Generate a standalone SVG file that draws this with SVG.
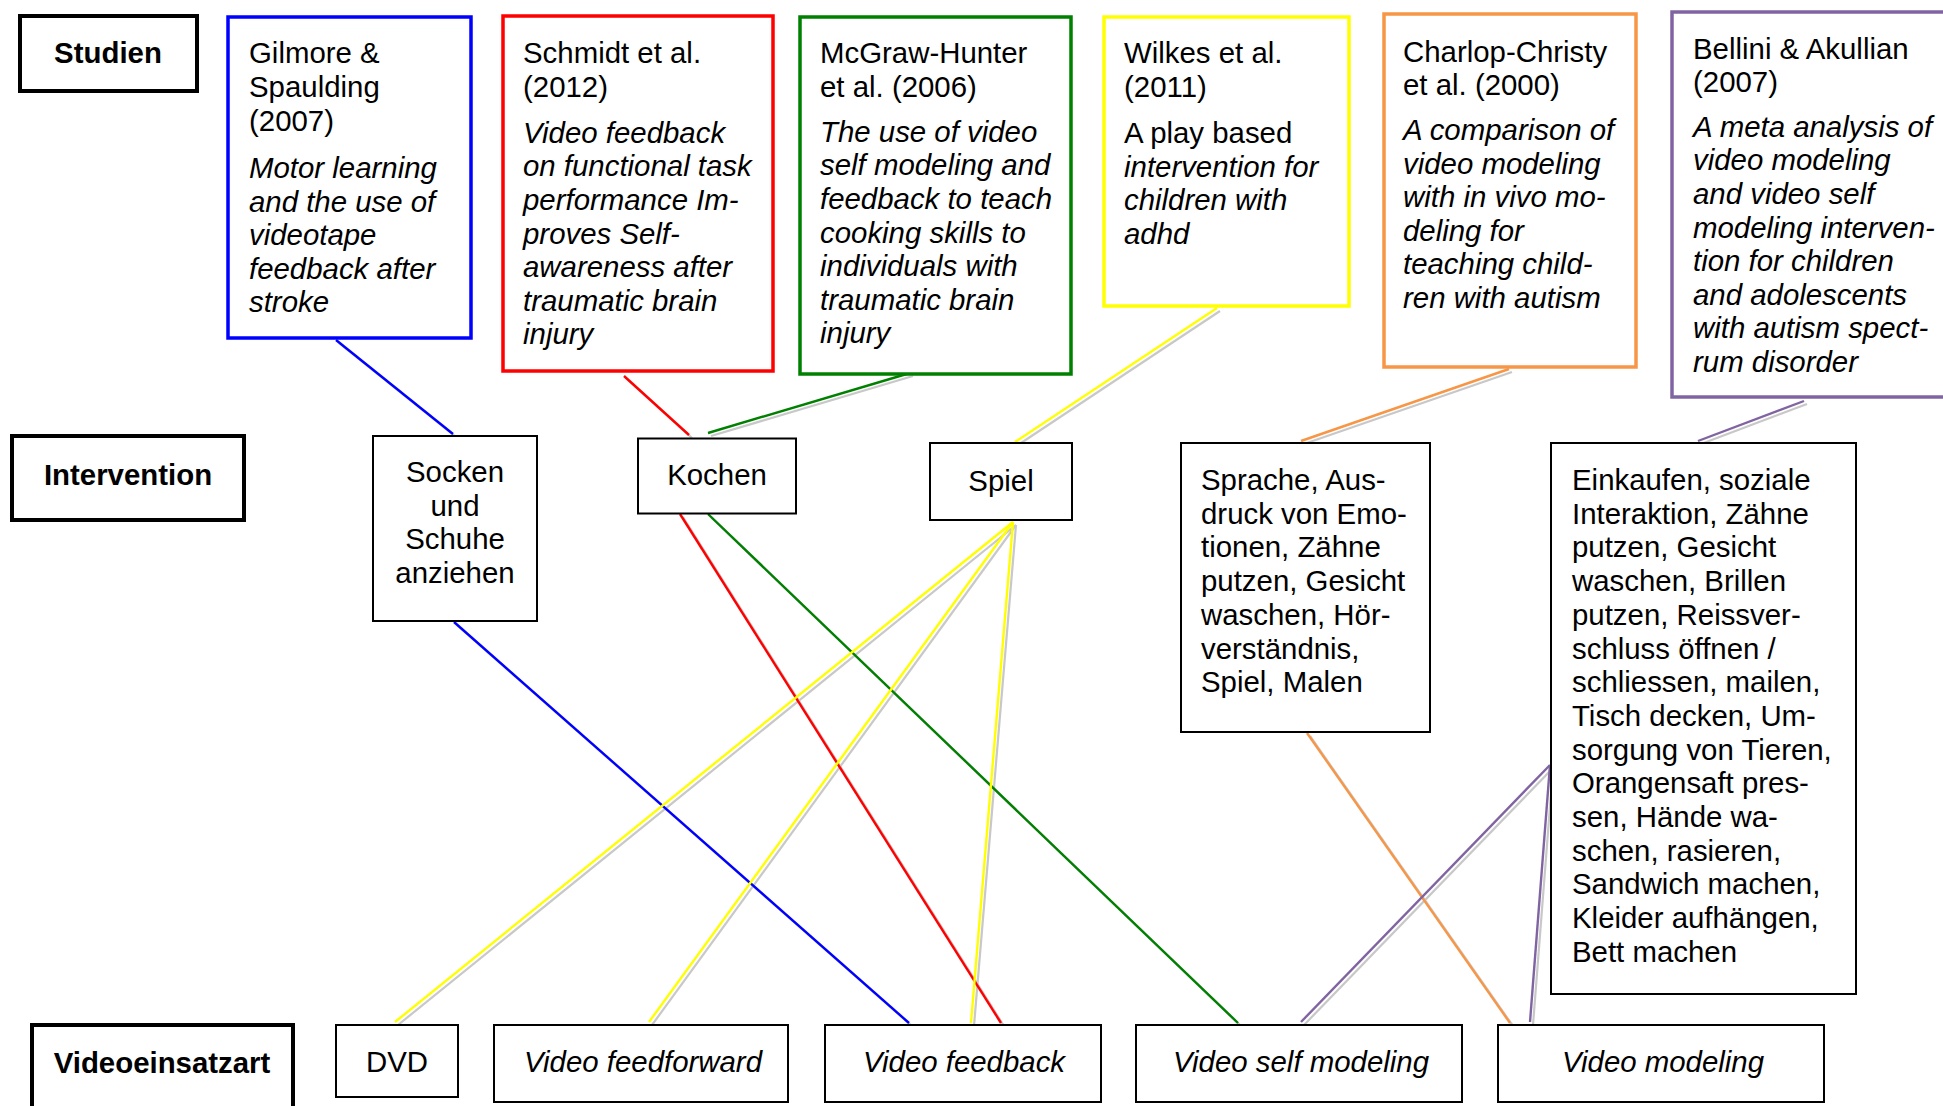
<svg xmlns="http://www.w3.org/2000/svg" width="1943" height="1106" viewBox="0 0 1943 1106">
<style>
text{font-family:"Liberation Sans",Arial,sans-serif;font-size:29.4px;fill:#000}
.b{font-weight:bold}
.i{font-style:italic}
.m{text-anchor:middle}
.lab{fill:#fff;stroke:#000;stroke-width:4}
.nd{fill:#fff;stroke:#000;stroke-width:2}
.st{fill:#fff;stroke-width:3.5}
.sh{stroke:#c8c8c8;stroke-width:2.2;fill:none}
.ln{stroke-width:2.4;fill:none}
</style>
<rect width="1943" height="1106" fill="#fff"/>
<g id="connectors">
  <g class="sh" transform="translate(3,3)">
    <line x1="336" y1="340" x2="453" y2="434"/>
    <line x1="454" y1="622" x2="909" y2="1023"/>
    <line x1="624" y1="376" x2="689" y2="435"/>
    <line x1="680" y1="514" x2="1001" y2="1023"/>
    <line x1="910" y1="373" x2="708" y2="433"/>
    <line x1="708" y1="514" x2="1238" y2="1023"/>
    <line x1="1217" y1="308" x2="1015" y2="442"/>
    <line x1="1013" y1="522" x2="395" y2="1022"/>
    <line x1="1013" y1="522" x2="649" y2="1022"/>
    <line x1="1013" y1="522" x2="971" y2="1023"/>
    <line x1="1509" y1="369" x2="1301" y2="441"/>
    <line x1="1307" y1="733" x2="1510" y2="1023"/>
    <line x1="1804" y1="401" x2="1698" y2="441"/>
    <line x1="1550" y1="765" x2="1301" y2="1022"/>
    <line x1="1550" y1="765" x2="1530" y2="1022"/>
  </g>
  <line class="ln" stroke="#0000ff" x1="336" y1="340" x2="453" y2="434"/>
  <line class="ln" stroke="#0000ff" x1="454" y1="622" x2="909" y2="1023"/>
  <line class="ln" stroke="#ff0000" x1="624" y1="376" x2="689" y2="435"/>
  <line class="ln" stroke="#ff0000" x1="680" y1="514" x2="1001" y2="1023"/>
  <line class="ln" stroke="#008000" x1="910" y1="373" x2="708" y2="433"/>
  <line class="ln" stroke="#008000" x1="708" y1="514" x2="1238" y2="1023"/>
  <line class="ln" stroke="#ffff00" x1="1217" y1="308" x2="1015" y2="442"/>
  <line class="ln" stroke="#ffff00" x1="1013" y1="522" x2="395" y2="1022"/>
  <line class="ln" stroke="#ffff00" x1="1013" y1="522" x2="649" y2="1022"/>
  <line class="ln" stroke="#ffff00" x1="1013" y1="522" x2="971" y2="1023"/>
  <line class="ln" stroke="#f79646" x1="1509" y1="369" x2="1301" y2="441"/>
  <line class="ln" stroke="#f79646" x1="1307" y1="733" x2="1510" y2="1023"/>
  <line class="ln" stroke="#8064a2" x1="1804" y1="401" x2="1698" y2="441"/>
  <line class="ln" stroke="#8064a2" x1="1550" y1="765" x2="1301" y2="1022"/>
  <line class="ln" stroke="#8064a2" x1="1550" y1="765" x2="1530" y2="1022"/>
</g>
<g id="label-studien">
  <rect class="lab" x="20" y="16" width="177" height="75"/>
  <text class="b m" x="108" y="63">Studien</text>
</g>
<g id="label-intervention">
  <rect class="lab" x="12" y="436" width="232" height="84"/>
  <text class="b m" x="128" y="485">Intervention</text>
</g>
<g id="label-videoeinsatzart">
  <rect class="lab" x="32" y="1025" width="261" height="100"/>
  <text class="b m" x="162" y="1073">Videoeinsatzart</text>
</g>
<g id="study-gilmore">
  <rect class="st" stroke="#0000ff" x="228" y="17" width="243" height="321"/>
  <text x="249"><tspan x="249" y="63">Gilmore &amp;</tspan><tspan x="249" y="97">Spaulding</tspan><tspan x="249" y="131">(2007)</tspan></text>
  <text class="i" x="249"><tspan x="249" y="178">Motor learning</tspan><tspan x="249" y="211.6">and the use of</tspan><tspan x="249" y="245.2">videotape</tspan><tspan x="249" y="278.8">feedback after</tspan><tspan x="249" y="312.4">stroke</tspan></text>
</g>
<g id="study-schmidt">
  <rect class="st" stroke="#ff0000" x="503" y="16" width="270" height="355"/>
  <text x="523"><tspan x="523" y="63">Schmidt et al.</tspan><tspan x="523" y="97">(2012)</tspan></text>
  <text class="i" x="523"><tspan x="523" y="142.7">Video feedback</tspan><tspan x="523" y="176.3">on functional task</tspan><tspan x="523" y="209.9">performance Im-</tspan><tspan x="523" y="243.5">proves Self-</tspan><tspan x="523" y="277.1">awareness after</tspan><tspan x="523" y="310.7">traumatic brain</tspan><tspan x="523" y="344.3">injury</tspan></text>
</g>
<g id="study-mcgraw">
  <rect class="st" stroke="#008000" x="800" y="17" width="271" height="357"/>
  <text x="820"><tspan x="820" y="63">McGraw-Hunter</tspan><tspan x="820" y="97">et al. (2006)</tspan></text>
  <text class="i" x="820"><tspan x="820" y="141.7">The use of video</tspan><tspan x="820" y="175.3">self modeling and</tspan><tspan x="820" y="208.9">feedback to teach</tspan><tspan x="820" y="242.5">cooking skills to</tspan><tspan x="820" y="276.1">individuals with</tspan><tspan x="820" y="309.7">traumatic brain</tspan><tspan x="820" y="343.3">injury</tspan></text>
</g>
<g id="study-wilkes">
  <rect class="st" stroke="#ffff00" x="1104" y="17" width="245" height="289"/>
  <text x="1124"><tspan x="1124" y="63">Wilkes et al.</tspan><tspan x="1124" y="97">(2011)</tspan><tspan x="1124" y="143">A play based</tspan></text>
  <text class="i" x="1124"><tspan x="1124" y="176.6">intervention for</tspan><tspan x="1124" y="210.2">children with</tspan><tspan x="1124" y="243.8">adhd</tspan></text>
</g>
<g id="study-charlop">
  <rect class="st" stroke="#f79646" x="1384" y="14" width="252" height="353"/>
  <text x="1403"><tspan x="1403" y="61.5">Charlop-Christy</tspan><tspan x="1403" y="95">et al. (2000)</tspan></text>
  <text class="i" x="1403"><tspan x="1403" y="140">A comparison of</tspan><tspan x="1403" y="173.6">video modeling</tspan><tspan x="1403" y="207.2">with in vivo mo-</tspan><tspan x="1403" y="240.8">deling for</tspan><tspan x="1403" y="274.4">teaching child-</tspan><tspan x="1403" y="308">ren with autism</tspan></text>
</g>
<g id="study-bellini">
  <rect class="st" stroke="#8064a2" x="1672" y="12" width="300" height="385"/>
  <text x="1693"><tspan x="1693" y="58.5">Bellini &amp; Akullian</tspan><tspan x="1693" y="92">(2007)</tspan></text>
  <text class="i" x="1693"><tspan x="1693" y="136.7">A meta analysis of</tspan><tspan x="1693" y="170.3">video modeling</tspan><tspan x="1693" y="203.9">and video self</tspan><tspan x="1693" y="237.5">modeling interven-</tspan><tspan x="1693" y="271.1">tion for children</tspan><tspan x="1693" y="304.7">and adolescents</tspan><tspan x="1693" y="338.3">with autism spect-</tspan><tspan x="1693" y="371.9">rum disorder</tspan></text>
</g>
<g id="int-socken">
  <rect class="nd" x="373" y="436" width="164" height="185"/>
  <text class="m"><tspan x="455" y="482">Socken</tspan><tspan x="455" y="515.7">und</tspan><tspan x="455" y="549.4">Schuhe</tspan><tspan x="455" y="583.1">anziehen</tspan></text>
</g>
<g id="int-kochen">
  <rect class="nd" x="638" y="438.5" width="158" height="75"/>
  <text class="m" x="717" y="485">Kochen</text>
</g>
<g id="int-spiel">
  <rect class="nd" x="930" y="443" width="142" height="77"/>
  <text class="m" x="1001" y="491">Spiel</text>
</g>
<g id="int-sprache">
  <rect class="nd" x="1181" y="443" width="249" height="289"/>
  <text><tspan x="1201" y="490">Sprache, Aus-</tspan><tspan x="1201" y="523.7">druck von Emo-</tspan><tspan x="1201" y="557.4">tionen, Zähne</tspan><tspan x="1201" y="591.1">putzen, Gesicht</tspan><tspan x="1201" y="624.8">waschen, Hör-</tspan><tspan x="1201" y="658.5">verständnis,</tspan><tspan x="1201" y="692.2">Spiel, Malen</tspan></text>
</g>
<g id="int-einkaufen">
  <rect class="nd" x="1551" y="443" width="305" height="551"/>
  <text><tspan x="1572" y="490">Einkaufen, soziale</tspan><tspan x="1572" y="523.7">Interaktion, Zähne</tspan><tspan x="1572" y="557.4">putzen, Gesicht</tspan><tspan x="1572" y="591.1">waschen, Brillen</tspan><tspan x="1572" y="624.8">putzen, Reissver-</tspan><tspan x="1572" y="658.5">schluss öffnen /</tspan><tspan x="1572" y="692.2">schliessen, mailen,</tspan><tspan x="1572" y="725.9">Tisch decken, Um-</tspan><tspan x="1572" y="759.6">sorgung von Tieren,</tspan><tspan x="1572" y="793.3">Orangensaft pres-</tspan><tspan x="1572" y="827">sen, Hände wa-</tspan><tspan x="1572" y="860.7">schen, rasieren,</tspan><tspan x="1572" y="894.4">Sandwich machen,</tspan><tspan x="1572" y="928.1">Kleider aufhängen,</tspan><tspan x="1572" y="961.8">Bett machen</tspan></text>
</g>
<g id="type-dvd">
  <rect class="nd" x="336" y="1025" width="122" height="72"/>
  <text class="m" x="397" y="1072">DVD</text>
</g>
<g id="type-feedforward">
  <rect class="nd" x="494" y="1025" width="294" height="77"/>
  <text class="m i" x="643" y="1072">Video feedforward</text>
</g>
<g id="type-feedback">
  <rect class="nd" x="825" y="1025" width="276" height="77"/>
  <text class="m i" x="964" y="1072">Video feedback</text>
</g>
<g id="type-selfmodeling">
  <rect class="nd" x="1136" y="1025" width="326" height="77"/>
  <text class="m i" x="1301" y="1072">Video self modeling</text>
</g>
<g id="type-modeling">
  <rect class="nd" x="1498" y="1025" width="326" height="77"/>
  <text class="m i" x="1663" y="1072">Video modeling</text>
</g>
</svg>
